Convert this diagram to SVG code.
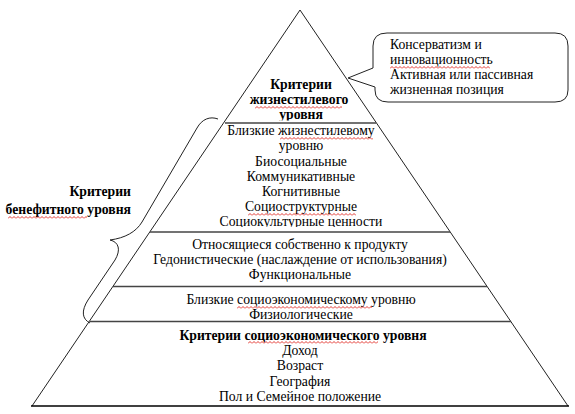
<svg xmlns="http://www.w3.org/2000/svg" width="575" height="414" viewBox="0 0 575 414" font-family="Liberation Serif, serif">
<style>
  text{font-family:'Liberation Serif','Times New Roman',serif;font-size:13.7px;fill:#000}
  .c{text-anchor:middle}
  .b{font-weight:bold}
  .edge{fill:none;stroke:#222;stroke-width:1}
  .sep{stroke:#444;stroke-width:1.6}
  .base{stroke:#000;stroke-width:1.6}
  .brace,.bubble{fill:#fff;stroke:#222;stroke-width:1}
  .brace{fill:none}
  .sq{fill:url(#wave)}
</style>
<defs>
  <pattern id="wave" width="4" height="3" patternUnits="userSpaceOnUse">
    <path d="M0 2.5 L2 0.5 L4 2.5" fill="none" stroke="#e0201a" stroke-width="0.9"/>
  </pattern>
  <clipPath id="clipTop"><rect x="0" y="0" width="575" height="120.5"/></clipPath>
  <clipPath id="clipMid"><rect x="0" y="0" width="575" height="227"/></clipPath>
</defs>
<rect width="575" height="414" fill="#fff"/>

<g id="pyramid">
  <path class="edge" d="M32 406 L300 10 L568 406"/>
  <line class="base" x1="31" y1="406" x2="569" y2="406"/>
</g>

<g id="connectors">
  <line class="sep" x1="225" y1="123" x2="376" y2="123"/>
  <line class="sep" x1="150" y1="232" x2="450" y2="232"/>
  <line class="sep" x1="113" y1="286.5" x2="487" y2="286.5"/>
  <line class="sep" x1="90" y1="321.5" x2="511" y2="321.5"/>
  <path class="brace" d="M218 119 C210 116 202 119 197 128 L142 222 C136 232 125 238 110 240 C119 242 121 250 115 260 L88 300 C81 311 82 319 90 323"/>
</g>

<g id="level-lifestyle">
  <g clip-path="url(#clipTop)">
    <text class="c b" x="301" y="88.5">Критерии</text>
    <text class="c b" x="299" y="103.5">жизнестилевого</text>
    <text class="c b" x="301" y="118.5">уровня</text>
  </g>
  <rect class="sq" transform="translate(255,106)" width="87" height="3"/>
</g>

<g id="callout">
  <path class="bubble" d="M387 33 L555 33 Q568 33 568 46 L568 90 Q568 102 555 102 L388 102 Q375 102 375 90 L375 87 L348 78 L373 68 L373 46 Q373 33 387 33 Z"/>
  <text x="390" y="49">Консерватизм и</text>
  <text x="390" y="64">инновационность</text>
  <text x="390" y="79">Активная или пассивная</text>
  <text x="390" y="94">жизненная позиция</text>
  <rect class="sq" transform="translate(390,66)" width="100" height="3"/>
</g>

<g id="level-close-lifestyle">
  <g clip-path="url(#clipMid)">
    <text class="c" x="301" y="135">Близкие жизнестилевому</text>
    <text class="c" x="301" y="150">уровню</text>
    <text class="c" x="301" y="165.5">Биосоциальные</text>
    <text class="c" x="301" y="181">Коммуникативные</text>
    <text class="c" x="301" y="196">Когнитивные</text>
    <text class="c" x="301" y="211">Социоструктурные</text>
    <text class="c" x="301" y="225.5">Социокультурные ценности</text>
  </g>
  <rect class="sq" transform="translate(280,137)" width="93" height="3"/>
  <rect class="sq" transform="translate(248,213)" width="108" height="3"/>
</g>

<g id="level-product">
  <text class="c" x="300" y="249">Относящиеся собственно к продукту</text>
  <text class="c" x="300" y="264">Гедонистические (наслаждение от использования)</text>
  <text class="c" x="300" y="279">Функциональные</text>
</g>

<g id="level-close-socio">
  <text class="c" x="301" y="304">Близкие социоэкономическому уровню</text>
  <text class="c" x="301" y="318.5">Физиологические</text>
  <rect class="sq" transform="translate(237,306)" width="135" height="3"/>
</g>

<g id="level-socio">
  <text class="c b" x="303" y="339.5">Критерии социоэкономического уровня</text>
  <text class="c" x="300" y="355">Доход</text>
  <text class="c" x="300" y="370">Возраст</text>
  <text class="c" x="300" y="385.5">География</text>
  <text class="c" x="300" y="400.5">Пол и Семейное положение</text>
  <rect class="sq" transform="translate(248,341)" width="130" height="3"/>
</g>

<g id="label-benefit">
  <text class="b" x="131" y="196" text-anchor="end">Критерии</text>
  <text class="b" x="131" y="214" text-anchor="end">бенефитного уровня</text>
  <rect class="sq" transform="translate(8,216)" width="79" height="3"/>
</g>
</svg>
